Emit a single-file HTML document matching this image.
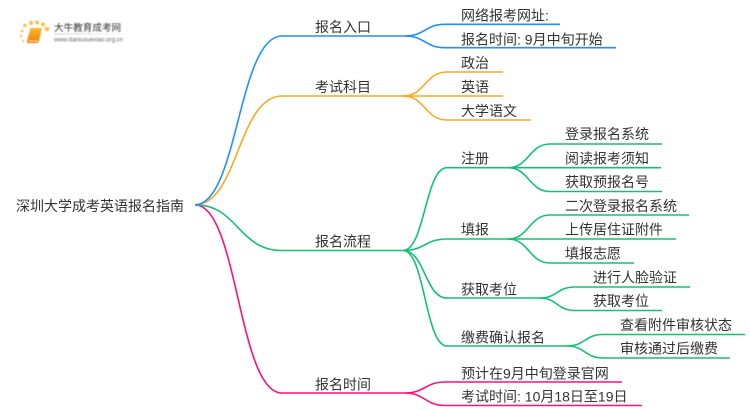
<!DOCTYPE html>
<html>
<head>
<meta charset="utf-8">
<style>
html,body{margin:0;padding:0;background:#fff;width:750px;height:410px;overflow:hidden}
svg{display:block}
text{font-family:"Liberation Sans","Noto Sans CJK SC",sans-serif;font-size:14px;fill:#333}
.t{filter:blur(.25px)}
.logo{filter:blur(.5px)}
path{fill:none;stroke-width:1.6}
.b path{stroke:#1e90ff}.o path{stroke:#faa81e}.g path{stroke:#14c174}.p path{stroke:#ff1178}
</style>
</head>
<body>
<svg width="750" height="410" viewBox="0 0 750 410" xmlns="http://www.w3.org/2000/svg">
<defs><linearGradient id="fade"><stop offset="0" stop-color="#ccc"/><stop offset="1" stop-color="#fff"/></linearGradient>
<linearGradient id="book" x1="0" y1="0" x2="0" y2="1"><stop offset="0" stop-color="#fbb62a"/><stop offset="1" stop-color="#ee7d10"/></linearGradient></defs>
<!-- logo -->
<g class="logo">
<g fill="#fcc040">
<circle cx="25" cy="25.500" r="1.800"/><circle cx="31" cy="23" r="2"/><circle cx="37" cy="22.500" r="2"/><circle cx="43" cy="24.500" r="2"/><circle cx="47" cy="29" r="2.300"/><circle cx="22" cy="31" r="1.400"/><circle cx="21" cy="36" r="1.200"/><circle cx="23" cy="41" r="1.100"/>
</g>
<path d="M30.500 28 H41 Q42 28 41.500 30 L39 41 Q38.500 43 37 43 H28 Q26.500 43 27 41 Z" style="fill:url(#book);stroke:none"/>
<path d="M28.500 41 H38" style="stroke:#fde2b0;stroke-width:1"/>
<rect x="54" y="33.500" width="78" height="1" fill="url(#fade)"/>
<text x="54" y="31" style="font-size:9.600px;fill:#333">大牛教育成考网</text>
<text x="54" y="41.500" style="font-size:6.100px;fill:#666">www.daniuxuexiao.org.cn</text>
</g>
<g class="p"><path d="M195 204.800C238 204.800 238 393 282 393H405"/>
<path d="M405 393C425 393 425 382 445 382H622"/><path d="M405 393C425 393 425 405.500 445 405.500H642"/></g>
<g class="g"><path d="M195 204.800C238 204.800 238 250.500 282 250.500H403"/>
<path d="M403 250.500C425 250.500 425 167.700 447 167.700H508"/><path d="M403 250.500C425 250.500 425 239 447 239H508"/><path d="M403 250.500C425 250.500 425 298 447 298H540"/><path d="M403 250.500C425 250.500 425 346 447 346H567"/>
<path d="M508 167.700C529 167.700 529 144 550 144H662"/><path d="M508 167.700H661"/><path d="M508 167.700C529 167.700 529 191.500 550 191.500H662"/>
<path d="M508 239C529 239 529 215 550 215H689"/><path d="M508 239H676"/><path d="M508 239C529 239 529 263 550 263H634"/>
<path d="M540 298C557 298 557 287 575 287H690"/><path d="M540 298C557 298 557 310.500 575 310.500H662"/>
<path d="M567 346C585 346 585 334.500 603 334.500H745"/><path d="M567 346C585 346 585 358 603 358H730"/></g>
<g class="o"><path d="M195 204.800C238 204.800 238 96 282 96H403"/>
<path d="M403 96C425 96 425 72 447 72H503"/><path d="M403 96H503"/><path d="M403 96C425 96 425 120 447 120H531"/></g>
<g class="b"><path d="M195 204.800C238 204.800 238 36 282 36H405"/>
<path d="M405 36C425 36 425 24.300 445 24.300H560"/><path d="M405 36C425 36 425 47.700 445 47.700H616"/></g>
<g class="t">
<text x="16" y="211">深圳大学成考英语报名指南</text>
<text x="315" y="32">报名入口</text>
<text x="315" y="92">考试科目</text>
<text x="315" y="246.500">报名流程</text>
<text x="315" y="389.500">报名时间</text>
<text x="461" y="20.500">网络报考网址:</text>
<text x="461" y="44.500">报名时间: 9月中旬开始</text>
<text x="461" y="68">政治</text>
<text x="461" y="92">英语</text>
<text x="461" y="116">大学语文</text>
<text x="461" y="163.500">注册</text>
<text x="461" y="234.500">填报</text>
<text x="461" y="294.500">获取考位</text>
<text x="461" y="342.500">缴费确认报名</text>
<text x="461" y="378.500">预计在9月中旬登录官网</text>
<text x="461" y="401.500">考试时间: 10月18日至19日</text>
<text x="565" y="139">登录报名系统</text>
<text x="565" y="163.500">阅读报考须知</text>
<text x="565" y="187">获取预报名号</text>
<text x="565" y="211">二次登录报名系统</text>
<text x="565" y="234.500">上传居住证附件</text>
<text x="565" y="258.500">填报志愿</text>
<text x="593" y="282.500">进行人脸验证</text>
<text x="593" y="306">获取考位</text>
<text x="620" y="330">查看附件审核状态</text>
<text x="620" y="353.500">审核通过后缴费</text>
</g>
</svg>
</body>
</html>
